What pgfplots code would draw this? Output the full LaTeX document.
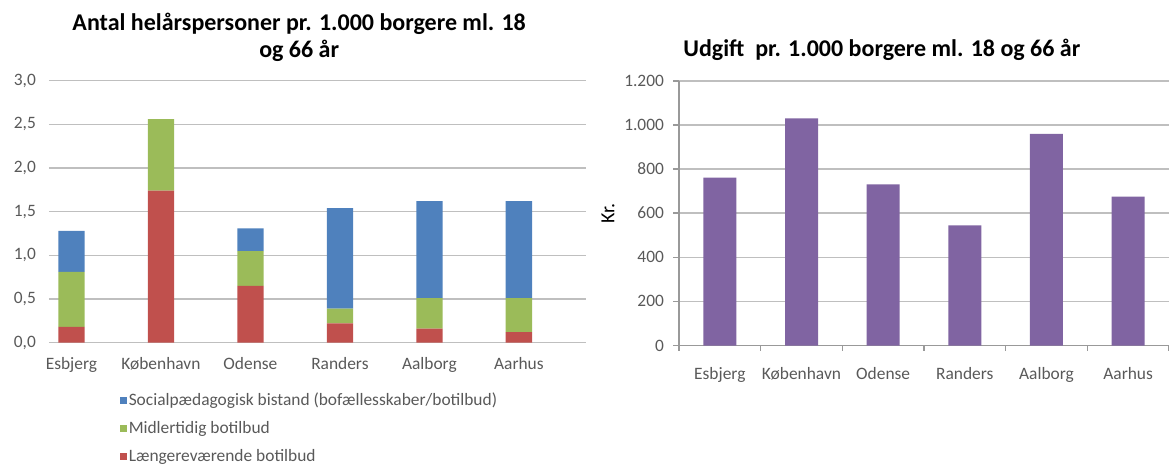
\documentclass[border=0pt]{standalone}
\usepackage{pgfplots}
\pgfplotsset{compat=1.18}
\usepackage{fontspec}
\setmainfont{Carlito}
\definecolor{xblue}{HTML}{4F81BD}
\definecolor{xgreen}{HTML}{9BBB59}
\definecolor{xred}{HTML}{C0504D}
\definecolor{xpurple}{HTML}{8064A2}
\definecolor{gridgray}{HTML}{BFBFBF}
\definecolor{txtgray}{HTML}{595959}

\pgfplotsset{
  sqlegend/.style={legend image code/.code={
    \fill[##1,draw=none] (0pt,-1.75pt) rectangle (3.5pt,1.75pt);}},
  common/.style={
    scale only axis,
    /pgf/number format/assume math mode=true,
    tick label style={font=\fontsize{8.7}{10}\selectfont, text=txtgray},
    title style={font=\bfseries\fontsize{12}{13.5}\selectfont, align=center, anchor=center},
    ymajorgrids, grid style={gridgray, line width=0.75pt},
    xtick={0,...,5},
    xticklabels={Esbjerg,København,Odense,Randers,Aalborg,Aarhus},
  },
}

\begin{document}
\begin{tikzpicture}
\path[use as bounding box] (0,0) rectangle (584.5pt,234pt);

% venstre: helårspersoner, stablet
\begin{axis}[common,
  at={(24.45pt,62.65pt)}, anchor=south west,
  width=268.55pt, height=131pt,
  ybar stacked, bar width=13.15pt,
  xmin=-0.252, xmax=5.75, ymin=0, ymax=3,
  ytick={0,0.5,...,3},
  axis line style={draw=none},
  major tick length=0pt,
  /pgf/number format/use comma,
  /pgf/number format/fixed,
  /pgf/number format/fixed zerofill,
  /pgf/number format/precision=1,
  yticklabel style={xshift=-3pt},
  xticklabel style={yshift=-4pt},
  title={Antal helårspersoner pr. 1.000 borgere ml. 18\\og 66 år},
  title style={at={(axis description cs:0.466,1.12)}},
  sqlegend, reverse legend,
  legend cell align=left,
  legend style={at={(axis description cs:0.12,-0.165)}, anchor=north west,
    draw=none, fill=none, row sep=4.5pt,
    font=\fontsize{8.7}{10}\selectfont, text=txtgray,
    nodes={inner sep=1pt}},
]
\addplot[fill=xred, draw=none] coordinates {(0,0.18) (1,1.74) (2,0.65) (3,0.22) (4,0.16) (5,0.12)};
\addplot[fill=xgreen, draw=none] coordinates {(0,0.63) (1,0.82) (2,0.40) (3,0.17) (4,0.35) (5,0.39)};
\addplot[fill=xblue, draw=none] coordinates {(0,0.47) (1,0) (2,0.26) (3,1.15) (4,1.11) (5,1.11)};
\legend{Længereværende botilbud, Midlertidig botilbud, Socialpædagogisk bistand (bofællesskaber/botilbud)}
\end{axis}

% højre: udgift
\begin{axis}[common,
  at={(339.5pt,61.25pt)}, anchor=south west,
  width=245pt, height=132.35pt,
  ybar, bar width=16.5pt,
  xmin=-0.5, xmax=5.5, ymin=0, ymax=1200,
  ytick={0,200,...,1200},
  axis x line*=bottom, axis y line*=left,
  axis line style={draw=gray!80, line width=0.7pt},
  tick align=outside,
  major x tick style={draw=none},
  minor xtick={-0.5,0.5,...,5.5},
  minor tick length=2.5pt, major tick length=3pt,
  every tick/.style={gray!80, line width=0.7pt},
  /pgf/number format/1000 sep={.},
  yticklabel style={xshift=-1pt},
  xticklabel style={yshift=-4.5pt},
  ylabel={Kr.},
  ylabel style={font=\bfseries\fontsize{7}{8}\selectfont},
  every axis y label/.style={at={(axis description cs:-0.145,0.5)}, rotate=90, anchor=center},
  title={Udgift\ \ pr. 1.000 borgere ml. 18 og 66 år},
  title style={at={(axis description cs:0.414,1.073)}},
]
\addplot[fill=xpurple, draw=none] coordinates {(0,761) (1,1030) (2,731) (3,545) (4,959) (5,675)};
\end{axis}
\end{tikzpicture}
\end{document}
